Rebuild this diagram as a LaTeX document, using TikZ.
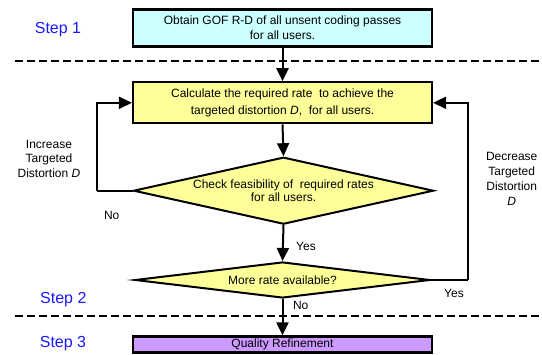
\documentclass[tikz,border=0pt]{standalone}
\usepackage{fontspec}
\setmainfont{Liberation Sans}
\usetikzlibrary{arrows.meta,shapes.geometric}

\definecolor{boxcyan}{HTML}{CCFFFF}
\definecolor{boxyellow}{HTML}{FFFF99}
\definecolor{boxpurple}{HTML}{CC99FF}
\definecolor{steptext}{HTML}{1A1AFF}

\tikzset{
  procbox/.style={draw=black, line width=2.2pt, rectangle, minimum width=299pt, inner sep=0pt, align=center},
  decision/.style={draw=black, line width=2pt, diamond, fill=boxyellow, inner sep=0pt},
  flow/.style={line width=2pt, -{Triangle[length=13pt,width=12pt]}},
  loopline/.style={line width=2pt},
  stagesep/.style={line width=2pt, dash pattern=on 8pt off 4pt},
  steplabel/.style={text=steptext, font=\fontsize{16}{19}\selectfont},
  note/.style={font=\fontsize{12}{14.5}\selectfont, align=center, inner sep=0pt}
}

\begin{document}
\begin{tikzpicture}[x=1pt, y=-1pt, font=\fontsize{12}{15}\selectfont]
\useasboundingbox (0,0) rectangle (542,355);

% step labels
\node[steplabel] (s1) at (58,30) {Step 1};
\node[steplabel] (s2) at (63.3,299.3) {Step 2};
\node[steplabel] (s3) at (63,344) {Step 3};

% stage separators
\coordinate (sepA1) at (15,61);
\coordinate (sepA2) at (542,61);
\coordinate (sepB1) at (15,316);
\coordinate (sepB2) at (542,316);
\draw[stagesep] (sepA1) -- (sepA2);
\draw[stagesep] (sepB1) -- (sepB2);

% process boxes
\node[procbox, fill=boxcyan, minimum height=37pt] (box1) at (282.5,28)
  {Obtain GOF R-D of all unsent coding passes\\for all users.};
\node[procbox, fill=boxyellow, minimum height=41pt, font=\fontsize{12}{17}\selectfont] (box2) at (282.5,102.8)
  {Calculate the required rate\ \ to achieve the\\targeted distortion \textit{D},\ \ for all users.};
\node[procbox, fill=boxpurple, minimum height=16pt] (box3) at (282.5,344.5)
  {Quality Refinement};

% decisions
\node[decision, minimum width=300pt, minimum height=67pt] (d1) at (283.5,190.7) {};
\node[note, font=\fontsize{12}{12.7}\selectfont] (d1text) at (d1.center)
  {Check feasibility of\ \ required rates\\for all users.};
\node[decision, minimum width=295pt, minimum height=36pt] (d2) at (282.5,280) {};
\node[note] (d2text) at (d2.center) {More rate available?};

% main flow
\draw[flow] (box1.south) -- (box2.north);
\draw[flow] (box2.south) -- (d1.north);
\draw[flow] (d1.south) -- (d2.north);
\draw[flow] (d2.south) -- (box3.north);

% feedback loops
\coordinate (lcorner) at (96.7,190.7);
\coordinate (rcorner) at (468.3,280);
\draw[loopline] (d1.west) -- (lcorner);
\draw[flow] (lcorner) |- (box2.west);
\draw[loopline] (d2.east) -- (rcorner);
\draw[flow] (rcorner) |- (box2.east);

% branch labels
\node[note] (yes1) at (306,246.7) {Yes};
\node[note] (no2) at (300.7,305.7) {No};
\node[note] (no1) at (111.7,215) {No};
\node[note] (yes2) at (454,293.3) {Yes};
\node[note] (inc) at (49,158.7) {Increase\\Targeted\\Distortion \textit{D}};
\node[note, font=\fontsize{12}{15}\selectfont] (dec) at (511.7,179.2) {Decrease\\Targeted\\Distortion\\\textit{D}};
\end{tikzpicture}
\end{document}
